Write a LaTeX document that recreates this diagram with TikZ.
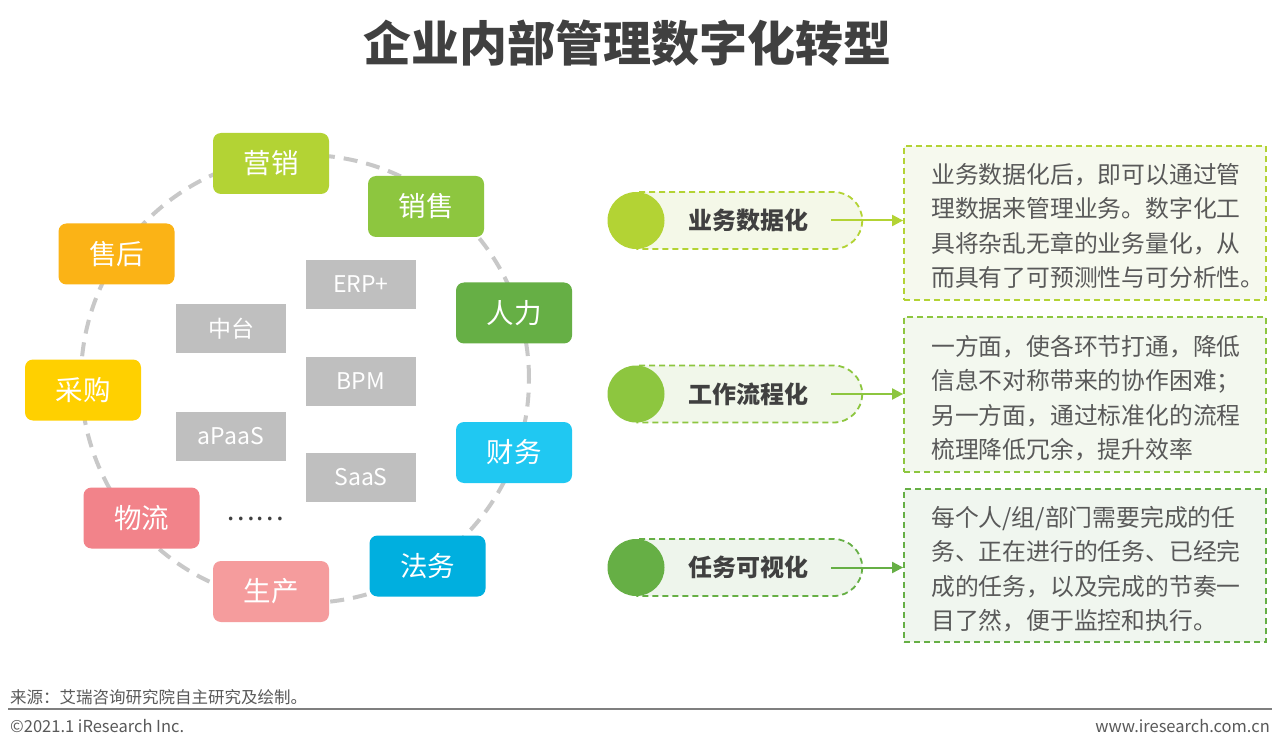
\documentclass[tikz,border=0pt]{standalone}
\usepackage{fontspec}
\setmainfont{Noto Sans CJK SC}
\usetikzlibrary{shapes.misc,arrows.meta}
\definecolor{cYX}{HTML}{B3D334}
\definecolor{cXS}{HTML}{8DC63F}
\definecolor{cSH}{HTML}{FBB316}
\definecolor{cRL}{HTML}{66AF45}
\definecolor{cCG}{HTML}{FFD000}
\definecolor{cCW}{HTML}{20C8F2}
\definecolor{cWL}{HTML}{F2838A}
\definecolor{cFW}{HTML}{00AFDF}
\definecolor{cSC}{HTML}{F59C9D}
\definecolor{cGray}{HTML}{BFBFBF}
\definecolor{cRing}{HTML}{C8C8C8}
\definecolor{cTitle}{HTML}{404040}
\definecolor{cBody}{HTML}{595959}
\definecolor{fP1}{HTML}{F4F8E8}
\definecolor{fP2}{HTML}{F1F7EA}
\definecolor{fP3}{HTML}{EEF5EC}
\definecolor{fT1}{HTML}{F6F9EE}
\definecolor{fT2}{HTML}{F3F8EF}
\definecolor{fT3}{HTML}{F0F6EF}
\definecolor{cFoot}{HTML}{7F7F7F}
\begin{document}
\begin{tikzpicture}[x=1pt,y=-1pt,
  cbox/.style={rounded corners=8pt, minimum width=116pt, minimum height=61pt, inner sep=0pt, text=white, font=\fontsize{27.5}{27.5}\selectfont},
  gbox/.style={fill=cGray, minimum width=110pt, minimum height=49pt, inner sep=0pt, text=white, font=\fontsize{23}{23}\selectfont},
  ring/.style={draw=cRing, line width=4pt, dash pattern=on 14pt off 9pt},
  pillbody/.style={rounded rectangle, rounded rectangle west arc=none, minimum width=225pt, minimum height=57pt, inner sep=0pt, line width=1.8pt, dash pattern=on 6pt off 4pt, text=cTitle, font=\bfseries\fontsize{24}{24}\selectfont},
  pilldot/.style={circle, minimum size=57pt, inner sep=0pt},
  descbox/.style={minimum width=362pt, line width=1.8pt, dash pattern=on 6pt off 4pt},
  desctext/.style={anchor=west, align=left, inner sep=0pt, text=cBody, font=\fontsize{23.8}{34.4}\selectfont},
  flowarrow/.style={line width=2pt, -{Triangle[length=11pt,width=11pt]}},
  foot/.style={inner sep=0pt, text=cBody, font=\fontsize{16.5}{16.5}\selectfont}
]
\fill[white] (0,0) rectangle (1280,751);
\useasboundingbox (0,0) rectangle (1280,751);

% title
\node[text=cTitle, font=\bfseries\fontsize{48}{48}\selectfont] (title) at (627,43) {企业内部管理数字化转型};

% ring
\draw[ring] (305,379) circle[radius=224pt];

% coloured boxes
\node[cbox, fill=cYX] (yx) at (271,163.5) {营销};
\node[cbox, fill=cXS] (xs) at (426,206.5) {销售};
\node[cbox, fill=cSH] (sh) at (116.5,254) {售后};
\node[cbox, fill=cRL] (rl) at (514,313) {人力};
\node[cbox, fill=cCG] (cg) at (83,390) {采购};
\node[cbox, fill=cCW] (cw) at (514,452.5) {财务};
\node[cbox, fill=cWL] (wl) at (141.5,518) {物流};
\node[cbox, fill=cFW] (fw) at (427.5,566) {法务};
\node[cbox, fill=cSC] (sc) at (271,591.5) {生产};

% grey boxes
\node[gbox] (erp) at (361,284.5) {ERP+};
\node[gbox] (zt) at (231,328.5) {中台};
\node[gbox] (bpm) at (361,381.5) {BPM};
\node[gbox] (apaas) at (231,436.5) {aPaaS};
\node[gbox] (saas) at (361,477.5) {SaaS};
\node[text=cTitle, font=\fontsize{27}{27}\selectfont, inner sep=0pt] (dots) at (255,518.5) {……};

% description boxes
\node[descbox, draw=cYX, fill=fT1, minimum height=154pt] (t1) at (1085,223) {};
\node[descbox, draw=cXS, fill=fT2, minimum height=155pt] (t2) at (1085,394.5) {};
\node[descbox, draw=cRL, fill=fT3, minimum height=153pt] (t3) at (1085,565.5) {};

\node[desctext] (t1txt) at (931,226) {业务数据化后，即可以通过管\\理数据来管理业务。数字化工\\具将杂乱无章的业务量化，从\\而具有了可预测性与可分析性。};
\node[desctext] (t2txt) at (931,398) {一方面，使各环节打通，降低\\信息不对称带来的协作困难；\\另一方面，通过标准化的流程\\梳理降低冗余，提升效率};
\node[desctext] (t3txt) at (931,569) {每个人/组/部门需要完成的任\\务、正在进行的任务、已经完\\成的任务，以及完成的节奏一\\目了然，便于监控和执行。};

% pills
\node[pillbody, draw=cYX, fill=fP1] (p1) at (748.5,220.5) {业务数据化};
\node[pillbody, draw=cXS, fill=fP2] (p2) at (748.5,394) {工作流程化};
\node[pillbody, draw=cRL, fill=fP3] (p3) at (748.5,567.5) {任务可视化};
\node[pilldot, fill=cYX] (d1) at (636,220.5) {};
\node[pilldot, fill=cXS] (d2) at (636,394) {};
\node[pilldot, fill=cRL] (d3) at (636,567.5) {};

\coordinate (a1) at (831,220.5);
\coordinate (a2) at (831,394);
\coordinate (a3) at (831,567.5);
\draw[flowarrow, draw=cYX, fill=cYX] (a1) -- (a1 -| t1.west);
\draw[flowarrow, draw=cXS, fill=cXS] (a2) -- (a2 -| t2.west);
\draw[flowarrow, draw=cRL, fill=cRL] (a3) -- (a3 -| t3.west);

% footer
\node[foot, anchor=west] (src) at (10,697) {来源：艾瑞咨询研究院自主研究及绘制。};
\coordinate (fl) at (8,709);
\coordinate (fr) at (1272,709);
\draw[cFoot, line width=2pt] (fl) -- (fr);
\node[foot, anchor=west] (copy) at (10,726) {©2021.1 iResearch Inc.};
\node[foot, anchor=east] (web) at (1270,726) {www.iresearch.com.cn};
\end{tikzpicture}
\end{document}
